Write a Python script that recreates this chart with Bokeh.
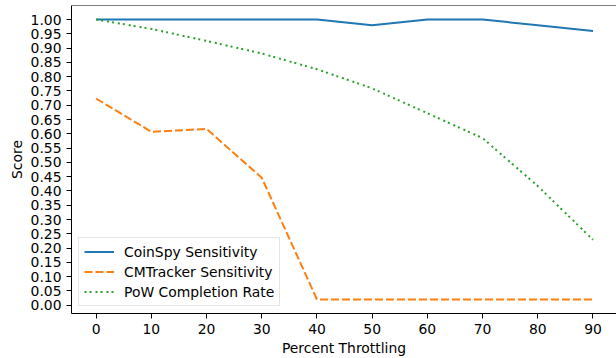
from bokeh.plotting import figure
from bokeh.models import FixedTicker, PrintfTickFormatter, Legend, LegendItem, Span
from bokeh.embed import file_html
from bokeh.resources import INLINE

# ---- data ----
throttling = [0, 10, 20, 30, 40, 50, 60, 70, 80, 90]
coinspy = [1.0, 1.0, 1.0, 1.0, 1.0, 0.98, 1.0, 1.0, 0.98, 0.96]
cmtracker = [0.723, 0.607, 0.617, 0.446, 0.02, 0.02, 0.02, 0.02, 0.02, 0.02]
pow_rate = [1.0, 0.967, 0.925, 0.881, 0.826, 0.759, 0.672, 0.585, 0.417, 0.229]

x_ticks = [0, 10, 20, 30, 40, 50, 60, 70, 80, 90]
y_ticks = [0.0, 0.05, 0.10, 0.15, 0.20, 0.25, 0.30, 0.35, 0.40, 0.45, 0.50,
           0.55, 0.60, 0.65, 0.70, 0.75, 0.80, 0.85, 0.90, 0.95, 1.0]

FONT = "DejaVu Sans"
FS = "13.9px"

p = figure(width=616, height=358, output_backend="svg", toolbar_location=None,
           x_range=(-4.47, 94.26), y_range=(-0.029, 1.049),
           min_border_left=71, min_border_right=0, min_border_top=5, min_border_bottom=43)
p.outline_line_color = None
p.xgrid.visible = False
p.ygrid.visible = False
p.background_fill_color = "white"
p.border_fill_color = "white"

r1 = p.line(throttling, coinspy, line_color="#1f77b4", line_width=2)
r2 = p.line(throttling, cmtracker, line_color="#ff7f0e", line_width=2, line_dash="8 3")
r3 = p.line(throttling, pow_rate, line_color="#2ca02c", line_width=2, line_dash="2 3 2 4")

# top spine
p.add_layout(Span(location=1.049, dimension="width", line_color="black", line_width=1))

for ax in (p.xaxis[0], p.yaxis[0]):
    ax.axis_line_color = "black"
    ax.axis_line_width = 1
    ax.major_tick_line_color = "black"
    ax.major_tick_out = 5
    ax.major_tick_in = 0
    ax.minor_tick_line_color = None
    ax.major_label_standoff = 5
    ax.major_label_text_font = FONT
    ax.major_label_text_font_size = FS
    ax.major_label_text_color = "black"
    ax.axis_label_text_font = FONT
    ax.axis_label_text_font_size = FS
    ax.axis_label_text_font_style = "normal"
    ax.axis_label_text_color = "black"

p.xaxis.ticker = FixedTicker(ticks=x_ticks)
p.yaxis.ticker = FixedTicker(ticks=y_ticks)
p.yaxis.formatter = PrintfTickFormatter(format="%.2f")
p.xaxis.axis_label = "Percent Throttling"
p.yaxis.axis_label = "Score"
p.xaxis.axis_label_standoff = 3
p.yaxis.axis_label_standoff = 3

legend = Legend(items=[
    LegendItem(label="CoinSpy Sensitivity", renderers=[r1]),
    LegendItem(label="CMTracker Sensitivity", renderers=[r2]),
    LegendItem(label="PoW Completion Rate", renderers=[r3]),
], location="bottom_left")
legend.margin = 7
legend.padding = 5
legend.spacing = 3
legend.glyph_width = 30
legend.glyph_height = 17
legend.label_standoff = 10
legend.label_text_font = FONT
legend.label_text_font_size = FS
legend.label_text_color = "black"
legend.border_line_color = "#cccccc"
legend.border_line_width = 1
legend.background_fill_alpha = 0.8
p.add_layout(legend)

open("out.html", "w").write(file_html(p, INLINE))
